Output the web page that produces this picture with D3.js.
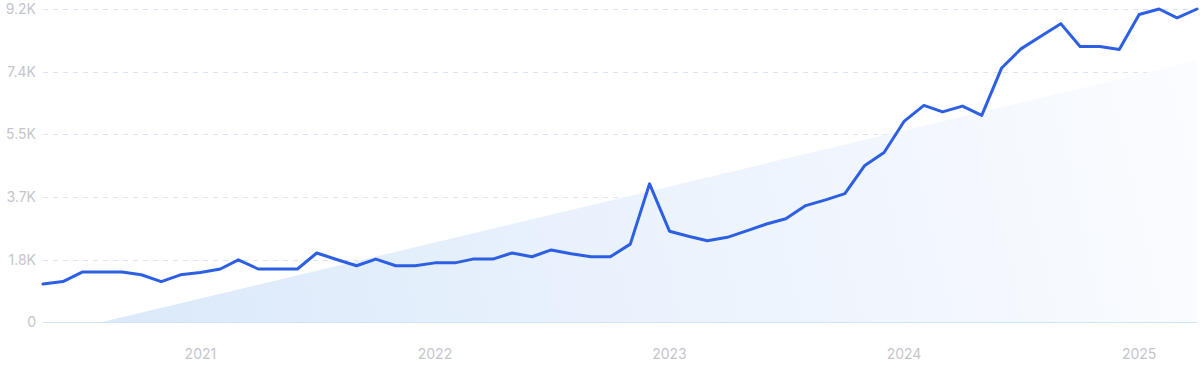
<!DOCTYPE html>
<html lang="en">
<head>
<meta charset="UTF-8">
<title>Search volume</title>
<style>
    body{ margin:0; background:#fff; }
    text{ font-family: Inter, "Noto Sans", sans-serif; }
</style>
</head>
<body>
<script src="https://cdn.jsdelivr.net/npm/d3@7/dist/d3.min.js"></script>
<script>

    // monthly values, May 2020 .. Apr 2025
    var startMonth = new Date(2020, 4, 1);
    var values = [
        1130, 1200, 1480, 1480, 1480, 1400, 1200, 1400, 1470, 1570,
        1840, 1570, 1570, 1570, 2040, 1850, 1665, 1860, 1665, 1665,
        1750, 1750, 1860, 1860, 2040, 1930, 2130, 2020, 1930, 1930,
        2300, 4070, 2680, 2525, 2400, 2500, 2690, 2890, 3045, 3430,
        3600, 3780, 4610, 4990, 5900, 6370, 6180, 6350, 6080, 7470,
        8030, 8400, 8770, 8100, 8100, 8010, 9040, 9200, 8940, 9200
    ];
    // trend line value at first and last month
    var trend = [-400, 7690];

    var yTicks = [0, 1840, 3680, 5520, 7360, 9200];
    var yTickLabels = ["0", "1.8K", "3.7K", "5.5K", "7.4K", "9.2K"];
    var xTickYears = [2021, 2022, 2023, 2024, 2025];

    var width = 1200, height = 371;
    var margin = {left: 43, right: 3, top: 9, bottom: 48};

    var data = values.map(function(v, i){
        return {date: d3.timeMonth.offset(startMonth, i), value: v};
    });

    var x = d3.scaleTime()
        .domain([data[0].date, data[data.length - 1].date])
        .range([margin.left, width - margin.right]);

    var y = d3.scaleLinear()
        .domain([0, 9200])
        .range([height - margin.bottom - 0.5, margin.top]);

    var svg = d3.select("body").append("svg")
        .attr("width", width)
        .attr("height", height);

    var defs = svg.append("defs");

    var grad = defs.append("linearGradient")
        .attr("id", "trendFill")
        .attr("gradientUnits", "userSpaceOnUse")
        .attr("x1", x.range()[0]).attr("y1", y(0))
        .attr("x2", x.range()[1]).attr("y2", y(trend[1]));
    grad.append("stop").attr("offset", 0).attr("stop-color", "#d9e8fa");
    grad.append("stop").attr("offset", 1).attr("stop-color", "#fbfcff");

    defs.append("clipPath").attr("id", "plotClip")
        .append("rect")
        .attr("x", x.range()[0])
        .attr("y", 0)
        .attr("width", x.range()[1] - x.range()[0])
        .attr("height", y(0));

    // grid
    svg.append("g").selectAll("line")
        .data(yTicks.slice(1))
        .enter().append("line")
        .attr("x1", x.range()[0])
        .attr("x2", x.range()[1])
        .attr("y1", function(d){ return Math.round(y(d)) + 0.5; })
        .attr("y2", function(d){ return Math.round(y(d)) + 0.5; })
        .style("stroke", "#dbe5f2")
        .style("stroke-width", 1)
        .style("stroke-dasharray", "5,5");

    // trend area
    var trendData = [
        {date: data[0].date, value: trend[0]},
        {date: data[data.length - 1].date, value: trend[1]}
    ];
    svg.append("path")
        .datum(trendData)
        .attr("clip-path", "url(#plotClip)")
        .attr("d", d3.area()
            .x(function(d){ return x(d.date); })
            .y0(y(0))
            .y1(function(d){ return y(d.value); }))
        .style("fill", "url(#trendFill)");

    // baseline
    svg.append("line")
        .attr("x1", x.range()[0])
        .attr("x2", x.range()[1])
        .attr("y1", y(0))
        .attr("y2", y(0))
        .style("stroke", "#cfe4f8")
        .style("stroke-width", 1.2);

    // y labels
    svg.append("g").selectAll("text")
        .data(yTicks)
        .enter().append("text")
        .attr("x", 36)
        .attr("y", function(d){ return y(d); })
        .attr("dy", "0.35em")
        .attr("text-anchor", "end")
        .style("font-size", "14px")
        .style("fill", "#c5c5cc")
        .text(function(d, i){ return yTickLabels[i]; });

    // x labels
    svg.append("g").selectAll("text")
        .data(xTickYears)
        .enter().append("text")
        .attr("x", function(d){ return x(new Date(d, 0, 1)); })
        .attr("y", 359)
        .attr("text-anchor", "middle")
        .style("font-size", "14px")
        .style("fill", "#c5c5cc")
        .text(function(d){ return d; });

    // series line
    svg.append("path")
        .datum(data)
        .attr("d", d3.line()
            .x(function(d){ return x(d.date); })
            .y(function(d){ return y(d.value); }))
        .style("fill", "none")
        .style("stroke", "#2d5fe3")
        .style("stroke-width", 3)
        .style("stroke-linejoin", "round")
        .style("stroke-linecap", "round");

</script>
</body>
</html>
